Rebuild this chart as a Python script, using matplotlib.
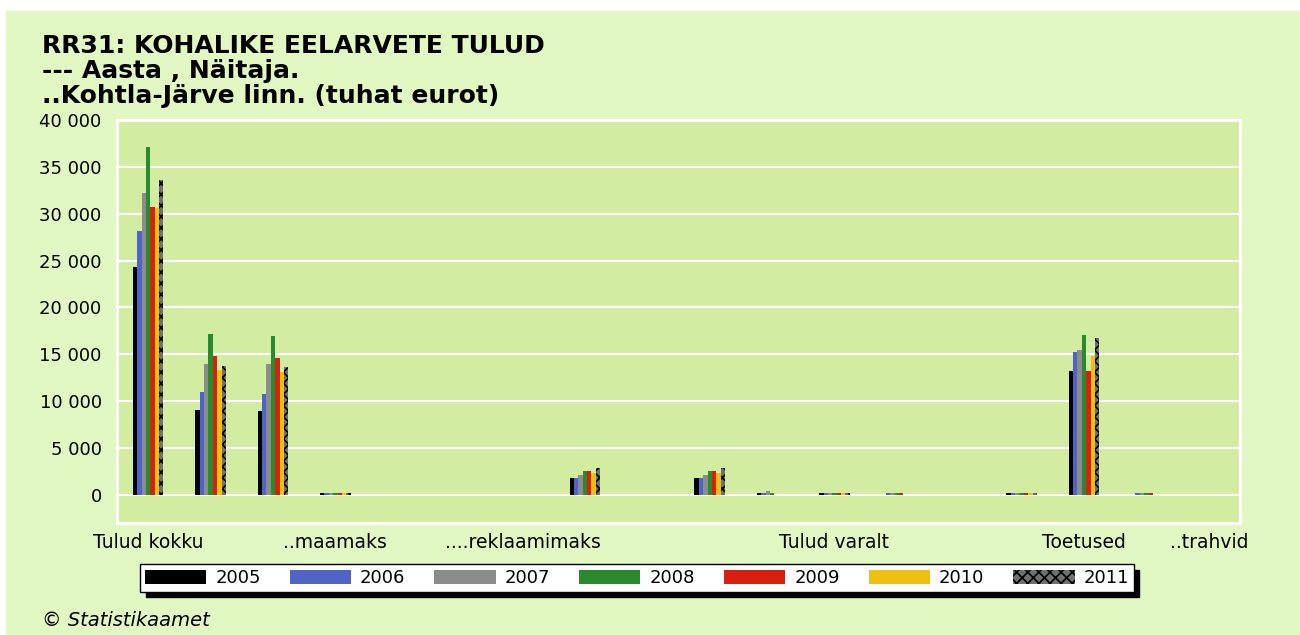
import numpy as np
import matplotlib
matplotlib.use("Agg")
import matplotlib.pyplot as plt
from matplotlib.patches import Rectangle

# --- Données (tuhat eurot) ---
x_labels = ["Tulud kokku", "", "", "..maamaks", "", "", "....reklaamimaks", "", "",
            "", "", "Tulud varalt", "", "", "", "Toetused", "", "..trahvid"]
years = ["2005", "2006", "2007", "2008", "2009", "2010", "2011"]

v2005 = [24300, 9100, 8950, 170, 0, 0, 0, 1850, 0, 1800, 180, 150, 0, 0, 150, 13200, 0, 0]
v2006 = [28200, 10950, 10800, 180, 0, 0, 0, 1850, 0, 1800, 200, 160, 150, 0, 160, 15200, 150, 0]
v2007 = [32250, 14000, 14000, 180, 0, 0, 0, 2150, 0, 2150, 400, 170, 150, 0, 170, 15500, 150, 0]
v2008 = [37150, 17200, 17000, 180, 0, 0, 0, 2500, 0, 2500, 200, 170, 150, 0, 170, 17100, 150, 0]
v2009 = [30750, 14850, 14650, 180, 0, 0, 0, 2500, 0, 2500, 0, 170, 150, 0, 170, 13200, 150, 0]
v2010 = [30600, 13350, 13150, 170, 0, 0, 0, 2300, 0, 2300, 0, 160, 0, 0, 160, 14800, 0, 0]
v2011 = [33600, 13800, 13650, 170, 0, 0, 0, 2850, 0, 2850, 0, 150, 0, 0, 150, 16700, 0, 0]
series = [v2005, v2006, v2007, v2008, v2009, v2010, v2011]

colors = ["#000000", "#5064C8", "#8C8C8C", "#2A8A2E", "#D8200F", "#F0C010", "#707070"]

BG_OUT = "#E1F8C2"
BG_IN = "#D2EDA2"

plt.rcParams["font.family"] = ["DejaVu Sans"]
plt.rcParams["hatch.linewidth"] = 1.2

fig = plt.figure(figsize=(13, 6.35), dpi=100, facecolor="white")
# fond vert clair (petite marge blanche en haut et à gauche)
fig.patches.append(Rectangle((6 / 1300, 0), 1, 1 - 11 / 635, transform=fig.transFigure,
                             facecolor=BG_OUT, edgecolor="none", zorder=-10))

ax = fig.add_axes([117 / 1300, 1 - 523 / 635, (1240 - 117) / 1300, (523 - 120) / 635])
ax.set_facecolor(BG_IN)

n = len(x_labels)
x = np.arange(n)
w = 0.07
for i, (yr, vals) in enumerate(zip(years, series)):
    off = (i - 3) * w
    if yr == "2011":
        ax.bar(x + off, vals, w, color=colors[i], edgecolor="black", linewidth=0,
               hatch="xxx", label=yr, zorder=3)
    else:
        ax.bar(x + off, vals, w, color=colors[i], linewidth=0, label=yr, zorder=3)

ax.set_xlim(-0.5, n - 0.5)
ax.set_ylim(-3000, 40000)
yt = np.arange(0, 40001, 5000)
ax.set_yticks(yt, [f"{v:,}".replace(",", " ") for v in yt], fontsize=13)
ax.set_xticks(x, x_labels, fontsize=13.5)
ax.tick_params(axis="y", length=0, pad=11)
ax.tick_params(axis="x", length=0, pad=7)
ax.grid(axis="y", color="white", linewidth=1.5, zorder=1)
ax.set_axisbelow(True)
for s in ax.spines.values():
    s.set_color("white")
    s.set_linewidth(2.2)

# titre sur trois lignes
title_lines = ["RR31: KOHALIKE EELARVETE TULUD", "--- Aasta , Näitaja.",
               "..Kohtla-Järve linn. (tuhat eurot)"]
for k, line in enumerate(title_lines):
    fig.text(42 / 1300, 1 - (53 + 25 * k) / 635, line, fontsize=18,
             fontweight="bold", ha="left", va="baseline")

leg = fig.legend(loc="center", bbox_to_anchor=(637 / 1300, 1 - 578 / 635), ncol=7,
                 fontsize=13, frameon=True, fancybox=False, handlelength=3.4,
                 handleheight=0.8, handletextpad=0.5, columnspacing=1.6,
                 borderpad=0.25, borderaxespad=0,
                 shadow={"ox": 4, "oy": -4, "facecolor": "black", "edgecolor": "black", "alpha": 1})
leg.get_frame().set_edgecolor("black")
leg.get_frame().set_linewidth(1.0)
leg.get_frame().set_facecolor("white")

fig.text(42 / 1300, 1 - 626 / 635, "© Statistikaamet", fontsize=14, style="italic",
         ha="left", va="baseline")

fig.savefig("out.png", dpi=100, facecolor=fig.get_facecolor())
